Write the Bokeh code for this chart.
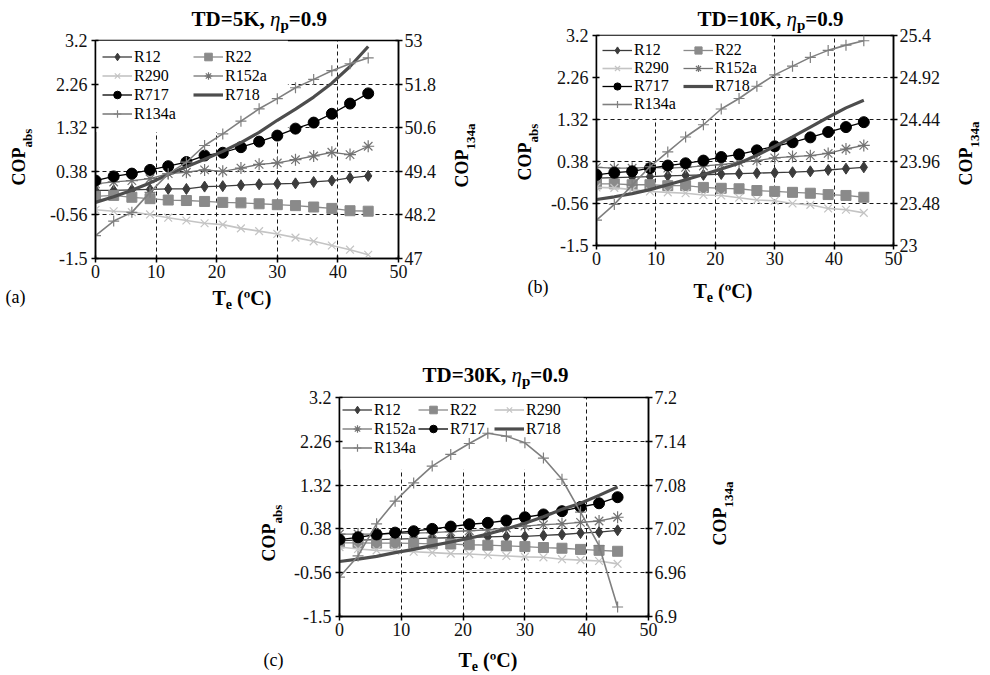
import math
from bokeh.plotting import figure
from bokeh.models import (Range1d, LinearAxis, FixedTicker, CustomJSTickFormatter,
                          Legend, LegendItem, Spacer)
from bokeh.core.properties import value
from bokeh.layouts import row, column
from bokeh.embed import file_html
from bokeh.resources import INLINE

# ---------------- data ----------------
TE = [0, 3, 6, 9, 12, 15, 18, 21, 24, 27, 30, 33, 36, 39, 42, 45]
X_TICKS = [0, 10, 20, 30, 40, 50]
LEFT_TICKS = [-1.5, -0.56, 0.38, 1.32, 2.26, 3.2]

# (a) TD=5K
A_R12 = [-0.03, -0.03, -0.02, -0.01, 0.00, 0.00, 0.05, 0.06, 0.08, 0.10, 0.11, 0.12, 0.15, 0.18, 0.24, 0.28]
A_R22 = [-0.16, -0.14, -0.18, -0.21, -0.24, -0.25, -0.27, -0.29, -0.30, -0.32, -0.34, -0.36, -0.39, -0.42, -0.47, -0.48]
A_R290 = [-0.45, -0.48, -0.50, -0.55, -0.62, -0.68, -0.74, -0.77, -0.85, -0.91, -0.97, -1.05, -1.13, -1.22, -1.31, -1.42]
A_R152a = [0.11, 0.15, 0.18, 0.22, 0.33, 0.36, 0.41, 0.38, 0.45, 0.53, 0.56, 0.63, 0.71, 0.79, 0.74, 0.92]
A_R717 = [0.18, 0.27, 0.33, 0.41, 0.49, 0.58, 0.72, 0.78, 0.90, 1.02, 1.15, 1.30, 1.43, 1.62, 1.84, 2.06]
A_R718 = [-0.29, -0.17, -0.03, 0.13, 0.31, 0.48, 0.64, 0.81, 1.00, 1.22, 1.48, 1.72, 1.98, 2.28, 2.64, 3.07]
A_R134a = [47.63, 48.03, 48.27, 48.82, 49.33, 49.65, 50.11, 50.43, 50.78, 51.12, 51.40, 51.70, 51.93, 52.17, 52.36, 52.52]
A_RIGHT_TICKS = [47, 48.2, 49.4, 50.6, 51.8, 53]

# (b) TD=10K
B_R12 = [0.01, 0.02, 0.03, 0.04, 0.06, 0.07, 0.08, 0.10, 0.11, 0.12, 0.13, 0.14, 0.16, 0.19, 0.22, 0.25]
B_R22 = [-0.12, -0.12, -0.14, -0.14, -0.16, -0.16, -0.20, -0.22, -0.23, -0.27, -0.29, -0.31, -0.33, -0.36, -0.38, -0.42]
B_R290 = [-0.20, -0.21, -0.25, -0.29, -0.31, -0.33, -0.37, -0.38, -0.43, -0.48, -0.50, -0.56, -0.59, -0.67, -0.70, -0.77]
B_R152a = [0.25, 0.23, 0.23, 0.25, 0.23, 0.25, 0.28, 0.31, 0.36, 0.40, 0.46, 0.49, 0.51, 0.56, 0.66, 0.74]
B_R717 = [0.08, 0.13, 0.16, 0.23, 0.29, 0.34, 0.40, 0.48, 0.54, 0.63, 0.72, 0.81, 0.92, 1.04, 1.15, 1.26]
B_R718 = [-0.47, -0.41, -0.34, -0.25, -0.14, -0.03, 0.09, 0.21, 0.34, 0.52, 0.72, 0.93, 1.15, 1.37, 1.58, 1.75]
B_R134a = [23.29, 23.47, 23.69, 23.90, 24.07, 24.24, 24.38, 24.56, 24.68, 24.82, 24.95, 25.05, 25.15, 25.23, 25.29, 25.34]
B_RIGHT_TICKS = [23, 23.48, 23.96, 24.44, 24.92, 25.4]

# (c) TD=30K
C_R12 = [0.13, 0.14, 0.15, 0.16, 0.17, 0.18, 0.19, 0.20, 0.21, 0.22, 0.22, 0.24, 0.26, 0.29, 0.31, 0.35]
C_R22 = [0.08, 0.08, 0.075, 0.075, 0.07, 0.06, 0.055, 0.04, 0.03, 0.015, 0.0, -0.02, -0.035, -0.06, -0.08, -0.10]
C_R290 = [-0.01, -0.05, -0.08, -0.09, -0.11, -0.13, -0.15, -0.16, -0.18, -0.20, -0.22, -0.23, -0.27, -0.29, -0.31, -0.37]
C_R152a = [0.27, 0.27, 0.27, 0.28, 0.29, 0.30, 0.32, 0.34, 0.36, 0.40, 0.44, 0.47, 0.49, 0.52, 0.55, 0.63]
C_R717 = [0.15, 0.20, 0.26, 0.30, 0.33, 0.38, 0.43, 0.48, 0.51, 0.56, 0.63, 0.69, 0.76, 0.85, 0.93, 1.06]
C_R718 = [-0.32, -0.27, -0.21, -0.13, -0.06, 0.02, 0.10, 0.18, 0.27, 0.38, 0.50, 0.64, 0.80, 0.93, 1.10, 1.28]
C_R134a = [6.954, 6.983, 7.027, 7.058, 7.083, 7.106, 7.122, 7.137, 7.151, 7.147, 7.138, 7.117, 7.088, 7.043, 6.997, 6.913]
C_RIGHT_TICKS = [6.9, 6.96, 7.02, 7.08, 7.14, 7.2]

SERIES = ["R12", "R22", "R290", "R152a", "R717", "R718", "R134a"]

# ---------------- styles ----------------
FONT = "Liberation Serif"
STYLE = {
    "R12":   dict(color="#3c3c3c", lw=1.3, marker="diamond",  size=11, mlw=1.0),
    "R22":   dict(color="#8a8a8a", lw=1.3, marker="square",   size=10, mlw=1.0),
    "R290":  dict(color="#c4c4c4", lw=1.6, marker="x",        size=11, mlw=1.2),
    "R152a": dict(color="#737373", lw=1.3, marker="asterisk", size=12, mlw=1.2),
    "R717":  dict(color="#000000", lw=1.3, marker="circle",   size=11, mlw=1.0),
    "R718":  dict(color="#4d4d4d", lw=3.2, marker=None,       size=0,  mlw=0),
    "R134a": dict(color="#7f7f7f", lw=1.6, marker="cross",    size=11, mlw=1.2),
}

BOLD_W = {' ': 250, '(': 333, ')': 333, ',': 250, '.': 250, '=': 570, 'C': 722, 'D': 722,
          'K': 778, 'O': 778, 'P': 611, 'T': 667, 'a': 500, 'b': 556, 'e': 444, 'p': 556,
          's': 389, 'º': 330}
ITAL_W = {'η': 500}
BASE_FIX = 0.38   # empirical baseline correction (fraction of font size)


def text_w(s, size, style):
    table = ITAL_W if style == "italic" else BOLD_W
    return sum(table.get(c, 500) for c in s) / 1000.0 * size


# frame = (left, top, width, height) in page pixels; borders = (left, top, right, bottom)
PANELS = [
    dict(key="a", title="TD=5K, ", data=[A_R12, A_R22, A_R290, A_R152a, A_R717, A_R718, A_R134a],
         rr=(47, 53), rticks=A_RIGHT_TICKS,
         frame=(95, 40, 303, 218), borders=(95, 40, 82, 62),
         ncols=2, label_width=59, row_h=19, pad=5, margin=2,
         box=(0.0, 0.635, 0.0, 0.42),   # legend background (fractions of frame)
         title_pos=(191, 26.5), yl_pos=(25, 185), yr_pos=(468, 187), xl_pos=(212, 305), tag_pos=(5, 303)),
    dict(key="b", title="TD=10K, ", data=[B_R12, B_R22, B_R290, B_R152a, B_R717, B_R718, B_R134a],
         rr=(23, 25.4), rticks=B_RIGHT_TICKS,
         frame=(596, 35, 297, 210), borders=(116, 35, 94, 75),
         ncols=2, label_width=49, row_h=18, pad=5, margin=1,
         box=(0.0, 0.59, 0.0, 0.395),
         title_pos=(697, 26), yl_pos=(531, 180), yr_pos=(972, 185), xl_pos=(693, 298), tag_pos=(527, 293)),
    dict(key="c", title="TD=30K, ", data=[C_R12, C_R22, C_R290, C_R152a, C_R717, C_R718, C_R134a],
         rr=(6.9, 7.2), rticks=C_RIGHT_TICKS,
         frame=(339, 397, 309, 219), borders=(87, 77, 90, 57),
         ncols=3, label_width=44, row_h=19, pad=3, margin=0,
         box=(0.0, 0.79, 0.0, 0.33),
         title_pos=(422, 382.5), yl_pos=(275, 561), yr_pos=(726, 545), xl_pos=(458, 667), tag_pos=(263, 666)),
]

XR = (0, 50)
YR = (-1.5, 3.2)


def make_panel(cfg):
    fl, ft, fw, fh = cfg["frame"]
    bl, bt, br, bb = cfg["borders"]
    p = figure(frame_width=fw, frame_height=fh, min_border_left=bl, min_border_top=bt,
               min_border_right=br, min_border_bottom=bb,
               x_range=Range1d(*XR), y_range=Range1d(*YR),
               output_backend="svg", toolbar_location=None, title=None)
    p.extra_y_ranges = {"r": Range1d(*cfg["rr"])}
    p.background_fill_color = "white"
    p.border_fill_color = "white"
    p.outline_line_color = "black"
    p.outline_line_width = 1.5
    p.outline_line_alpha = 1.0

    fmt = CustomJSTickFormatter(code="return tick.toString();")
    xt = FixedTicker(ticks=X_TICKS)
    yt = FixedTicker(ticks=LEFT_TICKS)
    p.xaxis.ticker = xt
    p.yaxis.ticker = yt
    p.xgrid.ticker = xt
    p.ygrid.ticker = yt
    raxis = LinearAxis(y_range_name="r", ticker=FixedTicker(ticks=cfg["rticks"]))
    p.add_layout(raxis, "right")
    for ax in [p.xaxis[0], p.yaxis[0], raxis]:
        ax.formatter = fmt
        ax.axis_line_color = "black"
        ax.axis_line_width = 1.5
        ax.major_tick_line_color = "black"
        ax.major_tick_line_width = 1.5
        ax.major_tick_in = 3
        ax.major_tick_out = 4
        ax.minor_tick_line_color = None
        ax.major_label_text_font = FONT
        ax.major_label_text_font_size = "18px"
        ax.major_label_text_color = "#111111"
        ax.axis_label = None
    p.xaxis.major_label_standoff = 2
    p.yaxis[0].major_label_standoff = 4
    raxis.major_label_standoff = 2

    for g in [p.xgrid[0], p.ygrid[0]]:
        g.grid_line_color = "black"
        g.grid_line_dash = "4 3"
        g.grid_line_width = 1.0
        g.grid_line_alpha = 0.9

    # legend background (white box hiding the grid behind the legend)
    bx0, bx1, by0, by1 = cfg["box"]
    p.quad(left=[XR[0] + bx0 * (XR[1] - XR[0])], right=[XR[0] + bx1 * (XR[1] - XR[0])],
           top=[YR[1] - by0 * (YR[1] - YR[0])], bottom=[YR[1] - by1 * (YR[1] - YR[0])],
           fill_color="white", line_color=None)

    items = []
    for name, ys in zip(SERIES, cfg["data"]):
        st = STYLE[name]
        kw = {"y_range_name": "r"} if name == "R134a" else {}
        rs = [p.line(TE, ys, line_color=st["color"], line_width=st["lw"], **kw)]
        if st["marker"]:
            rs.append(p.scatter(TE, ys, marker=st["marker"], size=st["size"],
                                fill_color=st["color"], line_color=st["color"],
                                line_width=st["mlw"], **kw))
        items.append(LegendItem(label=name, renderers=rs))

    leg = Legend(items=items, location="top_left", orientation="horizontal", ncols=cfg["ncols"],
                 glyph_width=30, glyph_height=cfg["row_h"], label_height=cfg["row_h"],
                 label_width=cfg["label_width"], label_standoff=2, spacing=0,
                 padding=cfg["pad"], margin=cfg["margin"],
                 background_fill_alpha=0, border_line_alpha=0,
                 label_text_font=FONT, label_text_font_size="16px", label_text_color="black")
    p.add_layout(leg)

    def to_data(px, py):
        x = XR[0] + (px - fl) / fw * (XR[1] - XR[0])
        y = YR[1] - (py - ft) / fh * (YR[1] - YR[0])
        return x, y

    def put_text(px, py, text, size, style, vertical=False):
        if vertical:
            px -= BASE_FIX * size
        else:
            py -= BASE_FIX * size
        dx, dy = to_data(px, py)
        p.text(x=[dx], y=[dy], text=[text], angle=(math.pi / 2 if vertical else 0.0), level="overlay",
               text_font=value(FONT), text_font_size=value(f"{size}px"),
               text_font_style=value(style), text_baseline="alphabetic",
               text_align="left", text_color="black")

    def rich(px, py, parts, vertical=False):
        for part in parts:
            text, size, style, drop = part[:4]
            extra = part[4] if len(part) > 4 else 0
            if text:
                ax, ay = (px + drop, py) if vertical else (px, py + drop)
                put_text(ax, ay, text, size, style, vertical)
            w = text_w(text, size, style) + extra
            if vertical:
                py -= w
            else:
                px += w

    rich(*cfg["title_pos"], [(cfg["title"], 21, "bold", 0), ("η", 21, "italic", 0),
                             ("p", 15, "bold", 4), ("=0.9", 21, "bold", 0)])
    rich(*cfg["yl_pos"], [("COP", 18, "bold", 0), ("abs", 13, "bold", 7)], vertical=True)
    rich(*cfg["yr_pos"], [("COP", 18, "bold", 0), ("134a", 13, "bold", 7)], vertical=True)
    rich(*cfg["xl_pos"], [("T", 20, "bold", 0), ("e", 14, "bold", 4, 5), ("(ºC)", 20, "bold", 0)])
    put_text(*cfg["tag_pos"], f"({cfg['key']})", 18, "normal")
    return p


pa, pb, pc = [make_panel(c) for c in PANELS]
layout = column(row(pa, column(pb)), row(Spacer(width=252, height=10), pc))

open("out.html", "w").write(file_html(layout, INLINE))
